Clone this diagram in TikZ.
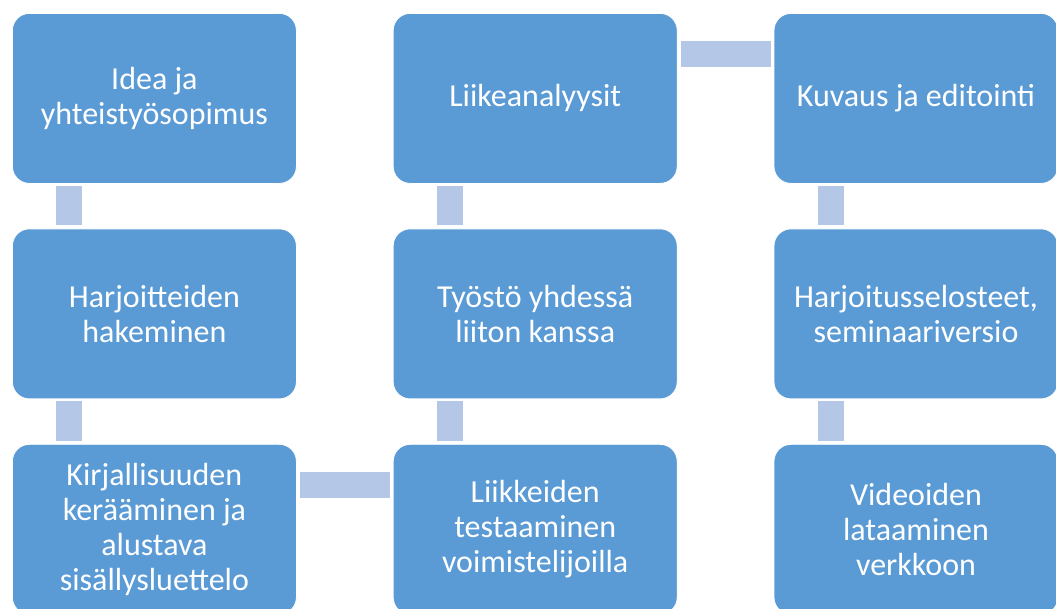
\documentclass[tikz,border=0pt]{standalone}
\usepackage{fontspec}
\setmainfont{Carlito}
\usetikzlibrary{positioning}
\definecolor{boxblue}{HTML}{5B9BD5}
\definecolor{linkblue}{HTML}{B4C7E7}
\begin{document}
\begin{tikzpicture}[
stage/.style={
	rectangle,
	rounded corners=12.75pt,
	fill=boxblue,
	draw=white,
	line width=0.6pt,
	minimum width=213pt,
	minimum height=127.5pt,
	text=white,
	align=center,
	font=\fontsize{24}{26.25}\selectfont
},
link/.style={
	linkblue,
	line width=19.5pt
},
node distance=33.5pt and 72pt
]
\useasboundingbox (0,0) rectangle (792pt,-456pt);
\clip (0,0) rectangle (792pt,-456pt);
\node[stage,anchor=north west] at (9pt,-9.75pt)
(idea) {Idea ja\\yhteistyösopimus};
\node[stage,below=of idea]
(haku) {Harjoitteiden\\hakeminen};
\node[stage,below=of haku]
(kirj) {Kirjallisuuden\\kerääminen ja\\alustava\\sisällysluettelo};
\node[stage,right=of kirj]
(testi) {Liikkeiden\\testaaminen\\voimistelijoilla};
\node[stage,above=of testi]
(tyosto) {Työstö yhdessä\\liiton kanssa};
\node[stage,above=of tyosto]
(analyysi) {Liikeanalyysit};
\node[stage,right=of analyysi]
(kuvaus) {Kuvaus ja editointi};
\node[stage,below=of kuvaus]
(seloste) {Harjoitusselosteet,\\seminaariversio};
\node[stage,below=of seloste]
(video) {Videoiden\\lataaminen\\verkkoon};

\draw[link] ([xshift=-63.75pt,yshift=-1.5pt]idea.south) -- ([xshift=-63.75pt,yshift=2.25pt]haku.north);
\draw[link] ([xshift=-63.75pt,yshift=-1.5pt]haku.south) -- ([xshift=-63.75pt,yshift=2.25pt]kirj.north);
\draw[link] ([xshift=2.25pt,yshift=33pt]kirj.east) -- ([xshift=-2.25pt,yshift=33pt]testi.west);
\draw[link] ([xshift=-63.75pt,yshift=-1.5pt]tyosto.south) -- ([xshift=-63.75pt,yshift=2.25pt]testi.north);
\draw[link] ([xshift=-63.75pt,yshift=-1.5pt]analyysi.south) -- ([xshift=-63.75pt,yshift=2.25pt]tyosto.north);
\draw[link] ([xshift=2.25pt,yshift=33pt]analyysi.east) -- ([xshift=-2.25pt,yshift=33pt]kuvaus.west);
\draw[link] ([xshift=-63.75pt,yshift=-1.5pt]kuvaus.south) -- ([xshift=-63.75pt,yshift=2.25pt]seloste.north);
\draw[link] ([xshift=-63.75pt,yshift=-1.5pt]seloste.south) -- ([xshift=-63.75pt,yshift=2.25pt]video.north);

\end{tikzpicture}
\end{document}
